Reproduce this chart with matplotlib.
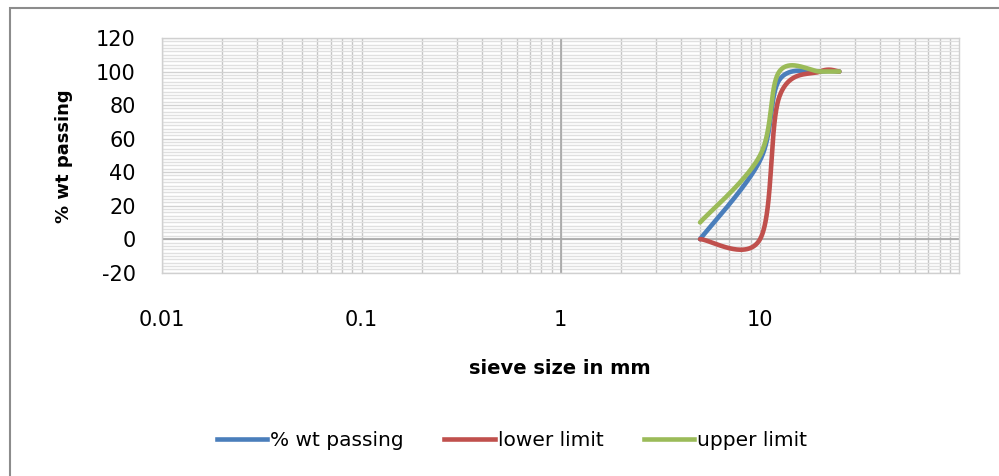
import numpy as np
import matplotlib
matplotlib.use("Agg")
import matplotlib.pyplot as plt
from matplotlib.ticker import FixedLocator, LogLocator, MultipleLocator, NullFormatter
from matplotlib.patches import Rectangle
from matplotlib.lines import Line2D

# ---- data ----
sieve_mm = [5, 10, 12.5, 20, 25]
pct_passing = [0, 47, 95, 100, 100]
lower_limit = [0, 0, 85, 100, 100]
upper_limit = [10, 50, 100, 100, 100]

series_names = ["% wt passing", "lower limit", "upper limit"]
series_colors = ["#4A7EBB", "#C0504D", "#9BBB59"]

x_tick_values = [0.01, 0.1, 1, 10]
x_tick_labels = ["0.01", "0.1", "1", "10"]
y_tick_values = [-20, 0, 20, 40, 60, 80, 100, 120]

plt.rcParams["font.family"] = ["DejaVu Sans"]
plt.rcParams["axes.unicode_minus"] = False

W, H = 999, 476
fig = plt.figure(figsize=(W / 100, H / 100), dpi=100)

# outer chart border (Excel chart area)
fig.patches.append(Rectangle((10 / W, -0.2), 2.0, 1.2 - 7.5 / H, transform=fig.transFigure,
                             fill=False, edgecolor="#8c8c8c", linewidth=1.5))

left, right, top, bottom = 162.3, 959.3, 38.0, 272.7
ax = fig.add_axes([left / W, 1 - bottom / H, (right - left) / W, (bottom - top) / H])
ax.set_xscale("log")
ax.set_xlim(0.01, 100)
ax.set_ylim(-20, 120)

ax.xaxis.set_major_locator(FixedLocator(x_tick_values))
ax.set_xticklabels(x_tick_labels)
ax.xaxis.set_minor_locator(LogLocator(base=10, subs=np.arange(2, 10)))
ax.xaxis.set_minor_formatter(NullFormatter())
ax.yaxis.set_major_locator(FixedLocator(y_tick_values))
ax.yaxis.set_minor_locator(MultipleLocator(2))

ax.xaxis.grid(True, which="both", color="#c4c4c4", linewidth=1.0)
ax.yaxis.grid(True, which="minor", color="#e0e0e0", linewidth=1.0)
ax.yaxis.grid(True, which="major", color="#d2d2d2", linewidth=1.0)
ax.set_axisbelow(True)
ax.axhline(0, color="#a6a6a6", linewidth=1.2, zorder=1)
ax.axvline(1, color="#a6a6a6", linewidth=1.2, zorder=1)

for s in ax.spines.values():
    s.set_color("#d0d0d0")
    s.set_linewidth(1.0)

ax.tick_params(axis="both", which="both", length=0)
ax.tick_params(axis="y", pad=19, labelsize=15, colors="#000000")
ax.tick_params(axis="x", pad=27, labelsize=15)


def excel_smooth(ax, xs, ys, n=60):
    """Excel-style smoothed line: Catmull-Rom Bezier computed in display space."""
    P = ax.transData.transform(np.column_stack([xs, ys]))
    m = len(P)
    out = []
    t = np.linspace(0, 1, n)[:, None]
    for i in range(m - 1):
        p0 = P[i - 1] if i > 0 else P[i]
        p1, p2 = P[i], P[i + 1]
        p3 = P[i + 2] if i + 2 < m else P[i + 1]
        c1 = p1 + (p2 - p0) / 6.0
        c2 = p2 - (p3 - p1) / 6.0
        seg = ((1 - t) ** 3) * p1 + 3 * ((1 - t) ** 2) * t * c1 + 3 * (1 - t) * t ** 2 * c2 + t ** 3 * p2
        out.append(seg if i == 0 else seg[1:])
    pts = np.vstack(out)
    d = ax.transData.inverted().transform(pts)
    return d[:, 0], d[:, 1]


for vals, name, col in zip([pct_passing, lower_limit, upper_limit], series_names, series_colors):
    sx, sy = excel_smooth(ax, sieve_mm, vals)
    ax.plot(sx, sy, color=col, linewidth=3.3, solid_capstyle="round", label=name, zorder=3)

fig.text(64 / W, 1 - 156 / H, "% wt passing", rotation=90, ha="center", va="center",
         fontsize=13, fontweight="bold")
fig.text(560 / W, 1 - 369 / H, "sieve size in mm", ha="center", va="center",
         fontsize=14, fontweight="bold")

handles = [Line2D([], [], color=c, linewidth=3.3) for c in series_colors]
fig.legend(handles, series_names, loc="center", bbox_to_anchor=(512 / W, 1 - 441 / H),
           ncol=3, frameon=False, fontsize=14.5, handlelength=2.5, handletextpad=0.15,
           columnspacing=2.0)

fig.savefig("out.png", dpi=100)
